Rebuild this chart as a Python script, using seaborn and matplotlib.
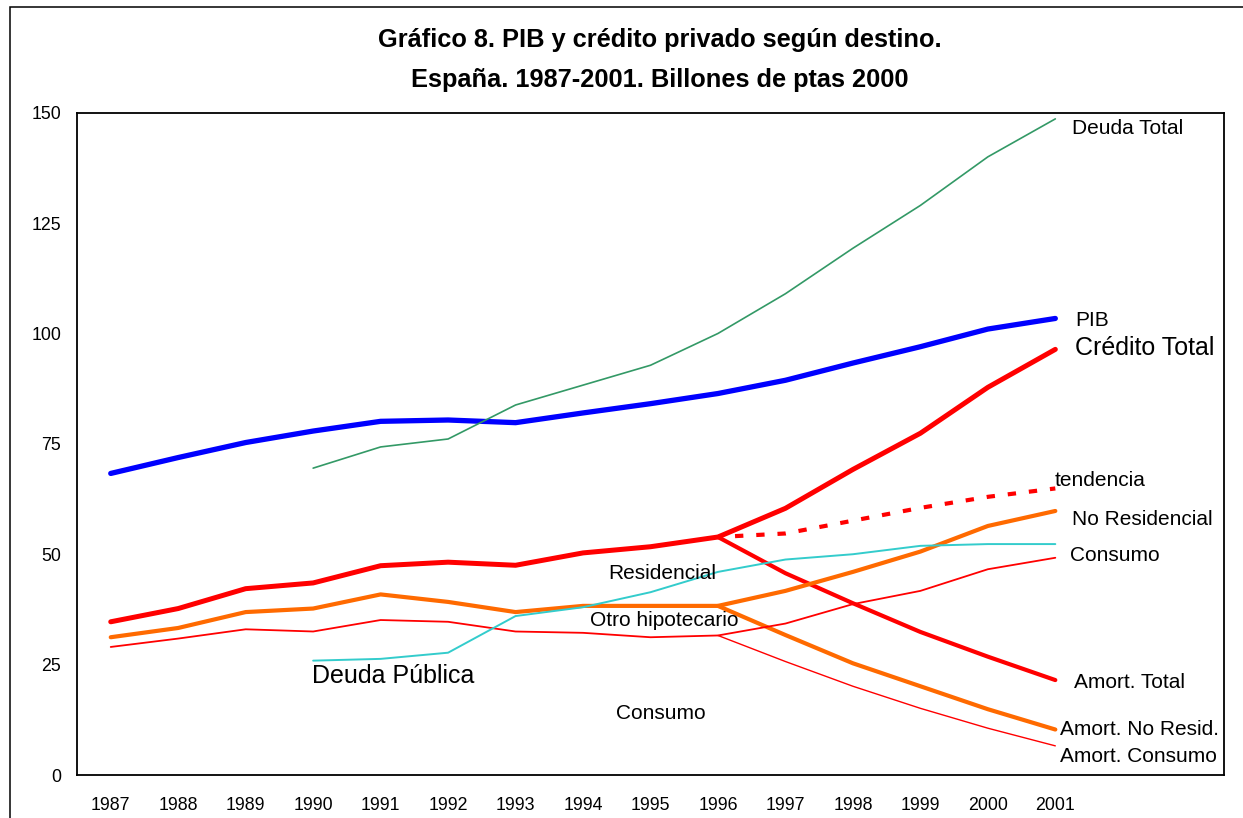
import numpy as np
import pandas as pd
import matplotlib
matplotlib.use("Agg")
import matplotlib.pyplot as plt
from matplotlib.patches import Rectangle
import seaborn as sns

sns.set_style("white")
plt.rcParams['font.family'] = ['Liberation Sans', 'DejaVu Sans']
plt.rcParams['text.color'] = 'black'
plt.rcParams['xtick.color'] = 'black'
plt.rcParams['ytick.color'] = 'black'

nan = np.nan
years = list(range(1987, 2002))
pib = [68.3, 71.9, 75.3, 77.9, 80.1, 80.4, 79.8, 82.0, 84.1, 86.4, 89.4, 93.3, 97.0, 101.0, 103.4]
credito_total = [34.7, 37.7, 42.2, 43.5, 47.4, 48.2, 47.5, 50.3, 51.7, 53.9, 60.4, 69.2, 77.4, 87.8, 96.4]
no_residencial = [31.2, 33.3, 36.9, 37.7, 40.9, 39.2, 36.9, 38.3, 38.3, 38.3, 41.7, 46.0, 50.6, 56.4, 59.8]
consumo = [29.0, 30.9, 33.0, 32.5, 35.1, 34.7, 32.5, 32.2, 31.2, 31.6, 34.3, 38.7, 41.7, 46.6, 49.2]
amort_total = [nan] * 9 + [53.9, 45.7, 38.9, 32.4, 26.8, 21.5]
amort_no_resid = [nan] * 9 + [38.3, 31.7, 25.3, 20.1, 14.9, 10.3]
amort_consumo = [nan] * 9 + [31.6, 25.7, 20.1, 15.1, 10.6, 6.6]
tendencia = [nan] * 9 + [53.9, 54.7, 57.6, 60.5, 63.0, 64.9]
deuda_total = [nan] * 3 + [69.5, 74.3, 76.1, 83.8, 88.3, 92.8, 100.0, 109.0, 119.3, 129.0, 140.0, 148.6]
deuda_publica = [nan] * 3 + [25.9, 26.3, 27.7, 36.0, 38.0, 41.4, 46.0, 48.8, 50.0, 51.9, 52.3, 52.3]

df = pd.DataFrame({
    'idx': np.arange(len(years)),
    'pib': pib, 'credito_total': credito_total, 'no_residencial': no_residencial,
    'consumo': consumo, 'amort_total': amort_total, 'amort_no_resid': amort_no_resid,
    'amort_consumo': amort_consumo, 'tendencia': tendencia,
    'deuda_total': deuda_total, 'deuda_publica': deuda_publica,
})

fig = plt.figure(figsize=(12.43, 8.18), dpi=100)
ax = fig.add_axes([77 / 1243, 43 / 818, 1147 / 1243, 662.3 / 818])

BLUE, RED, ORANGE = '#0000FF', '#FF0000', '#FF6A00'
GREEN, CYAN = '#339966', '#33CCCC'

# series: column, colour, width (pt), linestyle
series = [
    ('pib', BLUE, 3.8, '-'),
    ('credito_total', RED, 3.6, '-'),
    ('amort_total', RED, 3.0, '-'),
    ('no_residencial', ORANGE, 3.0, '-'),
    ('amort_no_resid', ORANGE, 3.0, '-'),
    ('consumo', RED, 1.3, '-'),
    ('amort_consumo', RED, 1.0, '-'),
    ('tendencia', RED, 3.0, (1.0, (2.0, 3.1))),
    ('deuda_total', GREEN, 1.2, '-'),
    ('deuda_publica', CYAN, 1.4, '-'),
]
for col, color, lw, ls in series:
    sub = df[['idx', col]].dropna()
    cap = 'butt' if ls != '-' else 'round'
    sns.lineplot(data=sub, x='idx', y=col, ax=ax, color=color, linewidth=lw,
                 linestyle=ls, errorbar=None, solid_capstyle=cap,
                 dash_capstyle='butt')

# labels on the chart
labels = [
    ('Deuda Total', 14.25, 146.4, 15),
    ('PIB', 14.29, 102.9, 15),
    ('Crédito Total', 14.29, 96.6, 18),
    ('tendencia', 13.99, 66.7, 15),
    ('No Residencial', 14.25, 57.9, 15),
    ('Consumo', 14.22, 49.8, 15),
    ('Residencial', 7.37, 45.7, 15),
    ('Otro hipotecario', 7.10, 35.1, 15),
    ('Consumo', 7.49, 14.0, 15),
    ('Deuda Pública', 2.98, 22.4, 18),
    ('Amort. Total', 14.28, 21.0, 15),
    ('Amort. No Resid.', 14.07, 10.2, 15),
    ('Amort. Consumo', 14.07, 4.3, 15),
]
for txt, x, y, fs in labels:
    ax.text(x, y, txt, fontsize=fs, ha='left', va='center', color='black')

ax.set_xlim(-0.5, 16.5)
ax.set_ylim(0, 150)
ax.set_yticks(np.arange(0, 151, 25))
ax.set_xticks(np.arange(-0.5, 17, 1))
ax.set_xticklabels([])
ax.set_xticks(np.arange(len(years)), minor=True)
ax.set_xticklabels([str(y) for y in years], minor=True)
ax.tick_params(axis='x', which='major', direction='out', length=4, width=1, color='black')
ax.tick_params(axis='x', which='minor', length=0, pad=16, labelsize=12.8, labelcolor='black')
ax.tick_params(axis='y', direction='out', length=4.5, width=1, color='black', pad=7,
               labelsize=12.8, labelcolor='black')
ax.set_xlabel('')
ax.set_ylabel('')
for s in ax.spines.values():
    s.set_color('black')
    s.set_linewidth(1.3)

fig.text(660 / 1243, 1 - 40 / 818, 'Gráfico 8. PIB y crédito privado según destino.',
         ha='center', va='center', fontsize=18.3, fontweight='bold', color='black')
fig.text(660 / 1243, 1 - 80 / 818, 'España. 1987-2001. Billones de ptas 2000',
         ha='center', va='center', fontsize=18.3, fontweight='bold', color='black')

# outer frame of the chart area
fig.add_artist(Rectangle((10 / 1243, -0.1), 1.2, 1.1 - 7 / 818, fill=False,
                         edgecolor='black', linewidth=1.1, transform=fig.transFigure,
                         clip_on=False))

fig.savefig('out.png', dpi=100)
